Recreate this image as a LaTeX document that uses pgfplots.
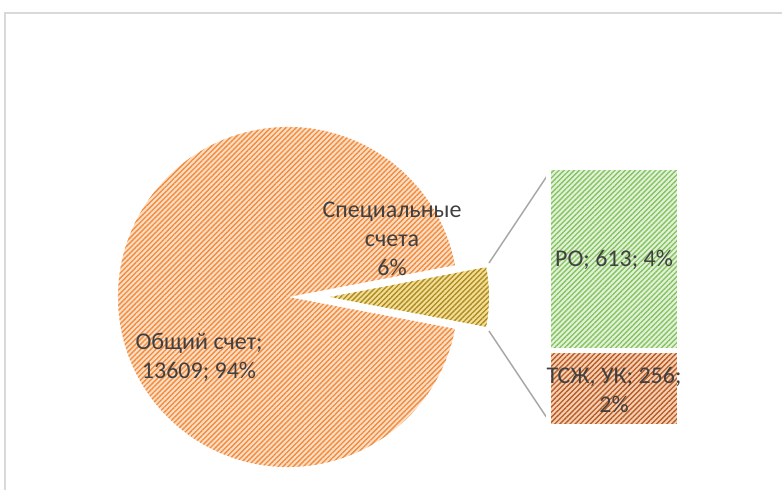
\documentclass[border=0pt]{standalone}
\usepackage{pgfplots}
\pgfplotsset{compat=1.18}
\usetikzlibrary{patterns.meta}
\usepackage{fontspec}
\setmainfont{Carlito}
\definecolor{obg}{HTML}{FCDDC6}
\definecolor{ost}{HTML}{F28C3A}
\definecolor{gbg}{HTML}{E3F1DA}
\definecolor{gst}{HTML}{84C45E}
\definecolor{bbg}{HTML}{F5D0B5}
\definecolor{bst}{HTML}{B95C24}
\definecolor{ybg}{HTML}{F3DE95}
\definecolor{yst}{HTML}{AD8A22}
\definecolor{lbl}{HTML}{404040}
\definecolor{frm}{HTML}{D9D9D9}
\definecolor{conn}{HTML}{A6A6A6}
% data
\def\vGen{13609}
\def\vRO{613}
\def\vTS{256}
\pgfmathsetmacro{\vTot}{\vGen+\vRO+\vTS}
\pgfmathsetmacro{\vSpec}{\vRO+\vTS}
\pgfmathsetmacro{\ha}{180*(\vSpec/\vTot)}
\pgfmathsetmacro{\hb}{360-\ha}
\pgfmathsetmacro{\hc}{-\ha}
\tikzset{lab/.style={font=\fontsize{24}{29}\selectfont, text=lbl, align=center},
  stripes/.style={pattern={Lines[angle=45,distance=3.6pt,line width=1.35pt]}}}
\begin{document}
\begin{tikzpicture}
\clip (0,0) rectangle (782pt,490pt);
% chart area border
\draw[frm, line width=2pt] (5pt,0pt) -- (5pt,477pt) -- (790pt,477pt);
\begin{axis}[at={(0pt,0pt)}, anchor=south west, width=782pt, height=490pt,
  scale only axis, hide axis, xmin=0, xmax=782, ymin=0, ymax=490, clip=false]
  % main slice
  \fill[obg, postaction={stripes, pattern color=ost}]
    (axis cs:288,193) -- ++(\ha:170pt) arc[start angle=\ha, end angle=\hb, radius=170pt] -- cycle;
  % exploded slice
  \fill[ybg, postaction={stripes, pattern color=yst}]
    (axis cs:330,193) -- ++(\ha:159pt) arc[start angle=\ha, end angle=\hc, radius=159pt] -- cycle;
  % connector lines
  \addplot[conn, line width=1.5pt, no marks] coordinates {(489,227) (551,320)};
  \addplot[conn, line width=1.5pt, no marks] coordinates {(489,159) (551,66)};
  \node[lab] at (axis cs:392,251) {Специальные\\счета\\6\%};
  \node[lab] at (axis cs:199,133) {Общий счет;\\13609; 94\%};
\end{axis}
\begin{axis}[name=bars, at={(548.5pt,63.5pt)}, anchor=south west, width=131pt, height=259pt,
  scale only axis, hide axis, xmin=-0.5, xmax=0.5, ymin=0, ymax=869,
  ybar stacked, bar width=131pt, clip=false]
  \addplot[preaction={fill=bbg}, stripes,
    pattern color=bst, draw=white, line width=5pt] coordinates {(0,256)};
  \addplot[preaction={fill=gbg}, stripes,
    pattern color=gst, draw=white, line width=5pt] coordinates {(0,613)};
\end{axis}
\node[lab] at (614pt,230pt) {РО; 613; 4\%};
\node[lab] at (614pt,100pt) {ТСЖ, УК; 256;\\2\%};
\end{tikzpicture}
\end{document}
